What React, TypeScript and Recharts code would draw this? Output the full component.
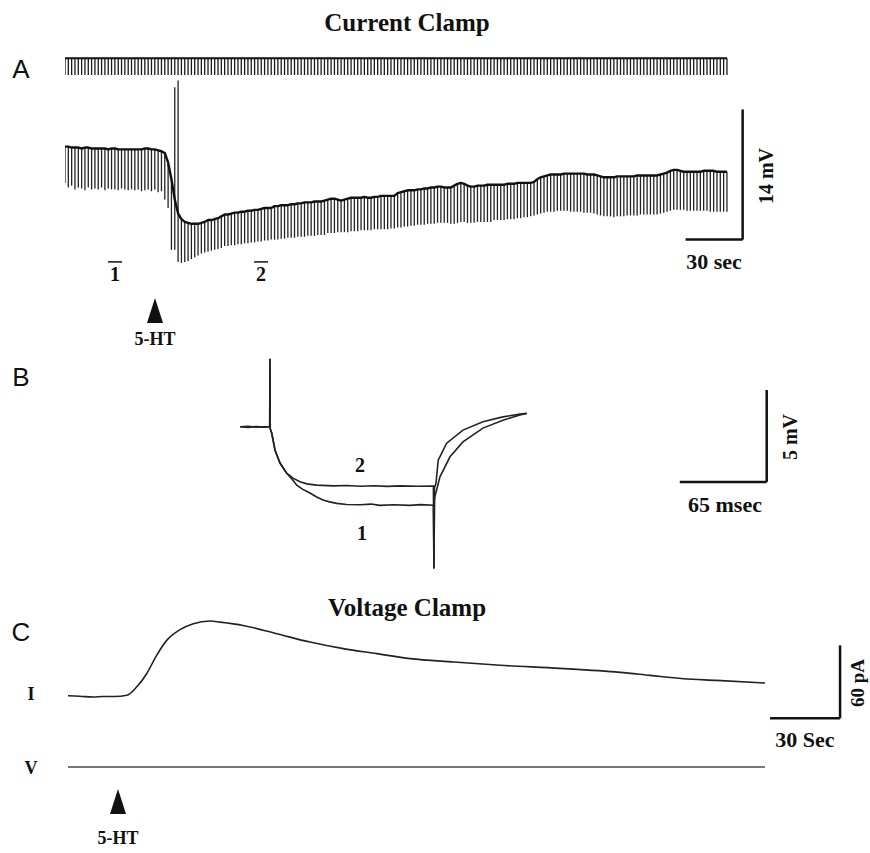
import React from "react";
import { ComposedChart, Line, Bar, XAxis, YAxis, ReferenceLine } from "recharts";

// ---- Panel A: current clamp, one hyperpolarizing pulse every PULSE_PERIOD_S ----
const PULSE_PERIOD_S = 1.75;
const STIM_PULSE_NA = -0.1;

// membrane potential just before each pulse (mV)
const pulseBaseMv = [
  -59.9, -59.9, -60.0, -60.0, -60.0, -60.1, -60.0, -60.0, -60.1, -60.1,
  -60.1, -60.1, -60.1, -60.2, -60.1, -60.1, -60.2, -60.2, -60.2, -60.2,
  -60.2, -60.2, -60.2, -60.2, -60.1, -60.1, -60.2, -60.2, -60.3, -60.4,
  -60.6, -61.6, -63.4, -65.6, -67.1, -67.7, -68.0, -68.1, -68.2, -68.2,
  -68.2, -68.1, -68.0, -67.8, -67.8, -67.7, -67.6, -67.4, -67.2, -67.2,
  -67.1, -67.0, -67.0, -66.9, -66.9, -66.8, -66.8, -66.7, -66.7, -66.6,
  -66.5, -66.5, -66.5, -66.3, -66.3, -66.2, -66.2, -66.2, -66.1, -66.1,
  -66.0, -66.0, -65.9, -65.9, -65.9, -65.8, -65.8, -65.8, -65.7, -65.6,
  -65.5, -65.5, -65.6, -65.7, -65.6, -65.5, -65.4, -65.4, -65.4, -65.4,
  -65.3, -65.4, -65.4, -65.3, -65.3, -65.2, -65.2, -65.2, -65.2, -65.2,
  -64.9, -64.8, -64.7, -64.6, -64.6, -64.6, -64.5, -64.5, -64.4, -64.4,
  -64.3, -64.3, -64.2, -64.2, -64.3, -64.3, -64.3, -64.1, -63.9, -63.8,
  -63.9, -64.1, -64.2, -64.2, -64.1, -64.1, -64.1, -64.0, -64.0, -64.0,
  -64.0, -64.0, -64.0, -63.9, -63.9, -63.9, -63.8, -63.8, -63.8, -63.8,
  -63.8, -63.7, -63.4, -63.2, -63.1, -63.0, -62.9, -62.9, -62.9, -62.9,
  -62.8, -62.8, -62.8, -62.8, -62.8, -62.8, -62.8, -62.9, -62.9, -62.9,
  -63.0, -63.1, -63.2, -63.2, -63.2, -63.2, -63.1, -63.1, -63.1, -63.1,
  -63.1, -63.1, -63.0, -63.0, -63.0, -63.0, -63.0, -63.0, -63.0, -62.9,
  -62.8, -62.7, -62.5, -62.4, -62.4, -62.5, -62.6, -62.6, -62.6, -62.6,
  -62.6, -62.6, -62.5, -62.5, -62.5, -62.5, -62.6, -62.6, -62.6, -62.6,
];

// peak of the voltage response to each pulse (mV)
const pulseTipMv = [
  -63.8, -64.3, -64.1, -64.5, -64.3, -64.4, -64.6, -64.3, -64.5, -64.4,
  -64.5, -64.3, -64.6, -64.4, -64.5, -64.5, -64.6, -64.4, -64.5, -64.6,
  -64.5, -64.6, -64.5, -64.7, -64.6, -64.5, -64.7, -64.5, -64.8, -64.7,
  -65.6, -66.5, -71.0, -71.0, -72.3, -72.4, -72.3, -72.2, -72.0, -71.8,
  -71.6, -71.4, -71.3, -71.2, -71.1, -71.0, -70.9, -70.8,
  -70.6, -70.6, -70.5, -70.5, -70.4, -70.4, -70.3, -70.3, -70.2, -70.2,
  -70.1, -70.1, -70.0, -70.0, -69.9, -69.9, -69.9, -69.8, -69.8, -69.7,
  -69.7, -69.7, -69.6, -69.6,
  -69.6, -69.5, -69.5, -69.5, -69.4, -69.4, -69.4, -69.2, -69.2, -69.2,
  -69.1, -69.1, -69.1, -69.1, -69.0, -69.0, -69.0, -68.9, -68.9, -68.9,
  -68.9, -68.8, -68.8, -68.8, -68.8, -68.8, -68.7, -68.7,
  -68.6, -68.6, -68.5, -68.5, -68.4, -68.4, -68.3, -68.3, -68.3, -68.2,
  -68.2, -68.2, -68.1, -68.1, -68.1, -68.1, -68.2, -68.2, -68.1, -68.0,
  -68.0, -68.1, -68.1, -68.1, -68.0, -68.0, -68.0, -68.0, -68.0, -67.8,
  -67.8, -67.8, -67.8,
  -67.7, -67.7, -67.7, -67.6, -67.6, -67.5, -67.5, -67.4, -67.3, -67.2,
  -67.1, -67.0, -66.9, -66.9, -66.9, -66.8, -66.8, -66.8, -66.8,
  -66.9, -66.9, -66.9, -66.9, -67.0, -67.0, -67.0, -67.1, -67.2, -67.3,
  -67.4, -67.4, -67.4, -67.5, -67.4, -67.4, -67.4, -67.3, -67.3, -67.3,
  -67.3, -67.2, -67.2, -67.2, -67.2, -67.2, -67.2, -67.1, -67.0, -66.9,
  -66.8, -66.7, -66.7, -66.7, -66.7, -66.8, -66.8, -66.8, -66.8, -66.8,
  -66.8, -66.8, -66.9, -66.9, -66.9, -66.9, -66.9, -66.9,
];

// puff artifacts at 5-HT application
const puffArtifacts = [
  { pulse: 33, topMv: -53.5 },
  { pulse: 34, topMv: -52.8 },
];

// sample windows averaged for panel B (s)
const windowsA = [
  { name: "1", from: 22.6, to: 30.0 },
  { name: "2", from: 99.5, to: 106.8 },
];

// ---- Panel B: averaged responses (ms, mV) ----
const responseControl: [number, number][] = [
  [0, -60.0], [6, -60.03], [12, -59.98], [18, -60.02], [22.2, -60.0], [22.4, -56.3], [22.6, -60.1],
  [23.7, -60.34], [26.2, -61.27], [29.9, -61.97], [34.9, -62.52], [39.6, -62.9], [42.4, -63.17],
  [47, -63.4], [52.3, -63.6], [57, -63.8], [62, -63.98], [67, -64.08], [72.3, -64.16], [79.7, -64.22],
  [90, -64.24], [98, -64.2], [104.6, -64.27], [115, -64.24], [127, -64.27], [135, -64.23],
  [144.6, -64.26], [145.0, -67.7], [145.4, -64.0], [145.7, -63.8], [149.5, -62.72], [157, -61.63],
  [166.7, -60.82], [181.6, -60.07], [196.6, -59.64], [209.3, -59.36], [214.5, -59.28],
];

const response5HT: [number, number][] = [
  [0, -60.0], [6, -59.97], [12, -60.02], [18, -60.0], [22.2, -60.0], [22.4, -56.3], [22.6, -60.1],
  [23.7, -60.34], [26.2, -61.27], [29.9, -61.97], [34.9, -62.52], [39.6, -62.79], [44.8, -62.99],
  [50, -63.1], [57.3, -63.17], [70, -63.21], [79.7, -63.19], [90, -63.23], [100, -63.2], [110, -63.24],
  [120, -63.21], [132, -63.23], [144.6, -63.22], [145.0, -67.7], [145.4, -63.3], [146.5, -63.08],
  [148.2, -61.81], [154.5, -60.89], [166.7, -60.18], [181.6, -59.73], [196.6, -59.46],
  [209.3, -59.31], [214.5, -59.26],
];

// ---- Panel C: voltage clamp current (s, pA) ----
const clampCurrent: [number, number][] = [
  [0, 0], [5, -0.3], [10.8, -1.0], [15, -0.5], [20, -0.6], [25.2, 0.4], [29.4, 7.2], [33.7, 18.2],
  [38.0, 33.3], [42.3, 45.6], [48.0, 54.4], [53.7, 59.3], [60.9, 61.5], [65.2, 60.6], [75.1, 57.9],
  [89.5, 51.1], [103.7, 44.2], [118.0, 38.8], [132.3, 34.7], [146.6, 30.6], [165.2, 27.8],
  [185.2, 25.1], [210.9, 22.6], [236.6, 19.3], [249.5, 16.8], [263.7, 14.1], [278.0, 12.7],
  [298.7, 10.5],
];
const holdingMv: [number, number][] = [[0, -60], [298.7, -60]];

// ---- tables ----
const pulseRows = pulseBaseMv.map((base, i) => {
  const art = puffArtifacts.find((a) => a.pulse === i);
  return { t: i * PULSE_PERIOD_S, base, deflection: [pulseTipMv[i], art ? art.topMv : base] };
});
const stimRows = pulseBaseMv.map((_, i) => ({ t: i * PULSE_PERIOD_S, hold: 0, pulse: [STIM_PULSE_NA, 0] }));
const toRows = (pts: [number, number][]) => pts.map(([t, v]) => ({ t, v }));

const INK = "#111";
const serif = '"Liberation Serif", "Times New Roman", serif';
const sans = '"Liberation Sans", Arial, sans-serif';
const noMargin = { top: 0, right: 0, bottom: 0, left: 0 };

const Label = ({ x, y, size = 20, font = serif, bold = true, rotate = 0, children }: any) => (
  <div
    style={{
      position: "absolute",
      left: x,
      top: y,
      transform: `translate(-50%, -50%) rotate(${rotate}deg)`,
      fontFamily: font,
      fontWeight: bold ? 700 : 400,
      fontSize: size,
      lineHeight: 1,
      whiteSpace: "nowrap",
      color: INK,
    }}
  >
    {children}
  </div>
);

const Arrow = ({ x, y }: { x: number; y: number }) => (
  <svg style={{ position: "absolute", left: x - 8, top: y }} width={16} height={25}>
    <polygon points="8,0 16,25 0,25" fill={INK} />
  </svg>
);

const Box = ({ left, top, children }: any) => (
  <div style={{ position: "absolute", left, top }}>{children}</div>
);

const bar = (x1: number, y1: number, x2: number, y2: number) => (
  <ReferenceLine
    segment={[{ x: x1, y: y1 }, { x: x2, y: y2 }]}
    stroke={INK}
    strokeWidth={2.5}
    ifOverflow="visible"
  />
);

export default function App() {
  return (
    <div style={{ position: "absolute", left: 0, top: 0, width: 870, height: 853, background: "#fff" }}>
      <Label x={407} y={22} size={25}>Current Clamp</Label>
      <Label x={21} y={69} size={26} font={sans} bold={false}>A</Label>

      {/* stimulus pulses */}
      <Box left={65} top={50}>
        <ComposedChart width={690} height={30} data={stimRows} margin={noMargin}>
          <XAxis type="number" dataKey="t" domain={[0, 363]} hide allowDataOverflow />
          <YAxis type="number" domain={[-0.13, 0.05]} hide allowDataOverflow />
          <Bar dataKey="pulse" barSize={1.3} fill="#1a1a1a" isAnimationActive={false} />
          <Line dataKey="hold" stroke={INK} strokeWidth={2} dot={false} isAnimationActive={false} />
        </ComposedChart>
      </Box>

      {/* membrane potential */}
      <Box left={65} top={36}>
        <ComposedChart width={690} height={251} data={pulseRows} margin={noMargin}>
          <XAxis type="number" dataKey="t" domain={[0, 363]} hide allowDataOverflow />
          <YAxis type="number" domain={[-75, -48]} hide allowDataOverflow />
          <Bar dataKey="deflection" barSize={1.3} fill="#222" isAnimationActive={false} />
          <Line
            dataKey="base"
            stroke={INK}
            strokeWidth={2.4}
            dot={false}
            strokeLinejoin="round"
            isAnimationActive={false}
          />
          {windowsA.map((w) => (
            <ReferenceLine
              key={w.name}
              segment={[{ x: w.from, y: -72.3 }, { x: w.to, y: -72.3 }]}
              stroke={INK}
              strokeWidth={1.5}
            />
          ))}
          {bar(326.5, -69.9, 356.5, -69.9)}
          {bar(356.5, -69.9, 356.5, -55.9)}
        </ComposedChart>
      </Box>
      <Label x={115} y={274}>1</Label>
      <Label x={261} y={274}>2</Label>
      <Label x={714} y={262} size={22}>30 sec</Label>
      <Label x={766} y={176} size={20} rotate={-90}>14 mV</Label>
      <Arrow x={155} y={298} />
      <Label x={155} y={339} size={18}>5-HT</Label>

      {/* Panel B */}
      <Label x={21} y={377} size={26} font={sans} bold={false}>B</Label>
      <Box left={240} top={344}>
        <ComposedChart width={535} height={230} margin={noMargin}>
          <XAxis type="number" dataKey="t" domain={[0, 400]} hide allowDataOverflow />
          <YAxis type="number" domain={[-68, -55.5]} hide allowDataOverflow />
          <Line data={toRows(responseControl)} dataKey="v" stroke="#222" strokeWidth={1.6} dot={false} isAnimationActive={false} />
          <Line data={toRows(response5HT)} dataKey="v" stroke="#222" strokeWidth={1.6} dot={false} isAnimationActive={false} />
          {bar(328.8, -63.0, 393.8, -63.0)}
          {bar(393.8, -63.0, 393.8, -58.0)}
        </ComposedChart>
      </Box>
      <Label x={360} y={465}>2</Label>
      <Label x={362} y={533}>1</Label>
      <Label x={725} y={505} size={22}>65 msec</Label>
      <Label x={790} y={437} size={20} rotate={-90}>5 mV</Label>

      {/* Panel C */}
      <Label x={407} y={607} size={25}>Voltage Clamp</Label>
      <Label x={21} y={632} size={26} font={sans} bold={false}>C</Label>
      <Label x={31} y={694} size={18}>I</Label>
      <Label x={31} y={768} size={18}>V</Label>
      <Box left={68} top={601}>
        <ComposedChart width={780} height={124} margin={noMargin}>
          <XAxis type="number" dataKey="t" domain={[0, 334.3]} hide allowDataOverflow />
          <YAxis type="number" domain={[-24, 78]} hide allowDataOverflow />
          <Line data={toRows(clampCurrent)} dataKey="v" type="monotone" stroke="#222" strokeWidth={1.6} dot={false} isAnimationActive={false} />
          {bar(300.9, -18.5, 330.9, -18.5)}
          {bar(330.9, -18.5, 330.9, 41.5)}
        </ComposedChart>
      </Box>
      <Box left={68} top={757}>
        <ComposedChart width={780} height={20} margin={noMargin}>
          <XAxis type="number" dataKey="t" domain={[0, 334.3]} hide allowDataOverflow />
          <YAxis type="number" domain={[-61, -59]} hide allowDataOverflow />
          <Line data={toRows(holdingMv)} dataKey="v" stroke="#777" strokeWidth={2} dot={false} isAnimationActive={false} />
        </ComposedChart>
      </Box>
      <Label x={805} y={740} size={22}>30 Sec</Label>
      <Label x={857} y={683} size={19} rotate={-90}>60 pA</Label>
      <Arrow x={118} y={789} />
      <Label x={118} y={838} size={18}>5-HT</Label>
    </div>
  );
}
